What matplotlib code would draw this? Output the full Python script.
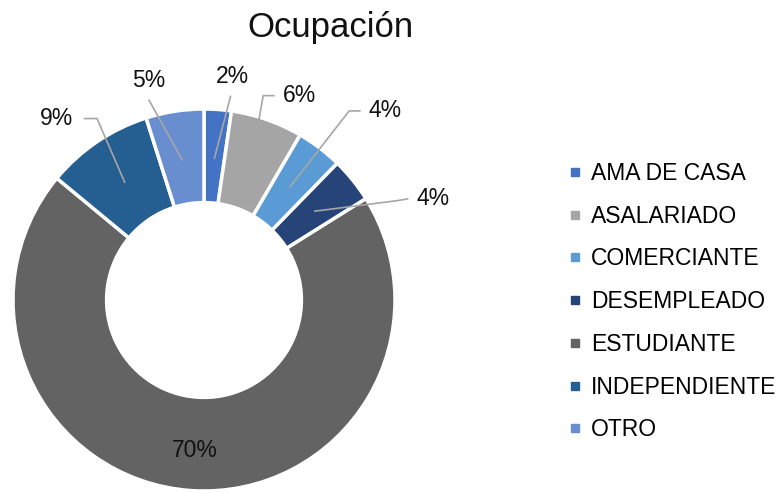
import numpy as np
import matplotlib.pyplot as plt
from matplotlib.lines import Line2D

plt.rcParams['font.family'] = ['Liberation Sans', 'DejaVu Sans']

# data
categorias = ['AMA DE CASA', 'ASALARIADO', 'COMERCIANTE', 'DESEMPLEADO',
              'ESTUDIANTE', 'INDEPENDIENTE', 'OTRO']
valores = [2.3, 6.1, 3.9, 3.8, 69.9, 9.1, 4.9]
etiquetas = ['2%', '6%', '4%', '4%', '70%', '9%', '5%']
colores = ['#4472C4', '#A5A5A5', '#5B9BD5', '#264478', '#636363', '#255E91', '#698ED0']

# label layout: (text x, text y, elbow points) in data units, None = inside ring
layout = [
    ((0.15, 1.17), [(0.14, 1.07)]),
    ((0.50, 1.07), [(0.37, 1.07), (0.31, 1.07)]),
    ((0.95, 0.99), [(0.82, 0.99), (0.76, 0.99)]),
    ((1.20, 0.53), [(1.07, 0.53), (1.01, 0.52)]),
    (None, None),
    ((-0.77, 0.95), [(-0.63, 0.95), (-0.56, 0.95)]),
    ((-0.29, 1.15), [(-0.29, 1.05)]),
]

fig = plt.figure(figsize=(7.84, 4.93), dpi=100)
cx, cy, r = 204, 300, 191
ax = fig.add_axes([0, 0, 470 / 784, 443 / 493])

wedges, _ = ax.pie(valores, colors=colores, startangle=90, counterclock=False,
                   radius=1.0, wedgeprops=dict(width=0.49, edgecolor='white', linewidth=2.5))
ax.set_aspect('auto')
ax.set_xlim((0 - cx) / r, (470 - cx) / r)
ax.set_ylim((cy - 493) / r, (cy - 50) / r)
ax.axis('off')

for w, lab, (pos, elbow) in zip(wedges, etiquetas, layout):
    ang = np.deg2rad((w.theta1 + w.theta2) / 2)
    mx, my = 0.74 * np.cos(ang), 0.74 * np.sin(ang)
    if pos is None:
        ax.text(-0.05, -0.79, lab, ha='center', va='center', fontsize=16.5, color='#111111')
        continue
    pts = [(mx, my)] + elbow[::-1]
    xs = [p[0] for p in pts]
    ys = [p[1] for p in pts]
    ax.plot(xs, ys, color='#A6A6A6', lw=1.2, solid_capstyle='butt')
    ax.text(pos[0], pos[1], lab, ha='center', va='center', fontsize=16.5, color='#111111')

fig.text(0.421, 0.945, 'Ocupación', ha='center', va='center', fontsize=25, color='#111111')

handles = [Line2D([], [], marker='s', linestyle='none', markersize=6,
                  markerfacecolor=c, markeredgecolor=c) for c in colores]
fig.legend(handles, categorias, loc='upper left', bbox_to_anchor=(568 / 784, 1 - 162 / 493),
           frameon=False, fontsize=16.5, handlelength=0.6, handletextpad=0.4,
           labelspacing=0.86, borderpad=0, borderaxespad=0)

fig.savefig('out.png', dpi=100)
